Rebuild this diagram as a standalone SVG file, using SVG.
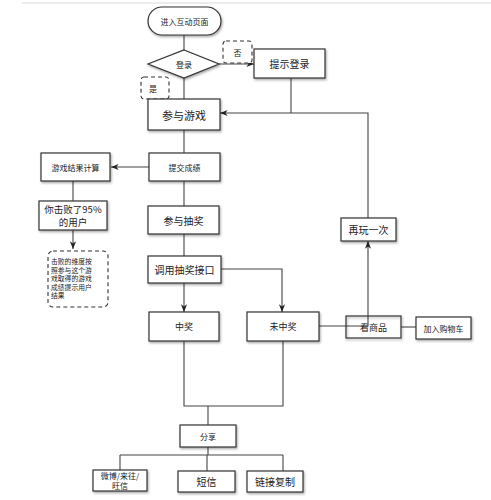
<svg xmlns="http://www.w3.org/2000/svg" width="491" height="500" viewBox="0 0 491 500">
<style>
text{font-family:"Noto Sans CJK SC","Noto Sans",sans-serif;fill:#222;text-anchor:middle;dominant-baseline:central}
.b{fill:#fff;stroke:#333;stroke-width:1.2}
.d{fill:#fff;stroke:#333;stroke-width:1.1;stroke-dasharray:4 3}
.c{fill:none;stroke:#444;stroke-width:1.1}
.l{text-anchor:start}
</style>
<defs>
<filter id="sh" x="-20%" y="-20%" width="150%" height="160%"><feDropShadow dx="1" dy="1.5" stdDeviation="1" flood-color="#000" flood-opacity="0.35"/></filter>
<marker id="a" viewBox="0 0 10 10" refX="10" refY="5" markerWidth="7" markerHeight="7" orient="auto"><path d="M0,1 L10,5 L0,9 L3,5 Z" fill="#222"/></marker>
</defs>
<rect width="491" height="500" fill="#fff"/>
<line x1="22" y1="3" x2="491" y2="3" stroke="#ececec" stroke-width="2"/>
<g id="connectors" class="c">
<path d="M184,35 V50"/>
<path d="M219,64 H254" marker-end="url(#a)"/>
<path d="M184,78 V99"/>
<path d="M291,78 V113"/>
<path d="M368,218 V113 H220" marker-end="url(#a)"/>
<path d="M184,130 V153"/>
<path d="M149,167 H111" marker-end="url(#a)"/>
<path d="M73,181 V201"/>
<path d="M73,230 V249" marker-end="url(#a)"/>
<path d="M184,181 V206"/>
<path d="M184,234 V256"/>
<path d="M184,283 V312" marker-end="url(#a)"/>
<path d="M221,269 H282 V312" marker-end="url(#a)"/>
<path d="M319,326 H368"/>
<path d="M368,326 V241" marker-end="url(#a)"/>
<path d="M401,327 H416"/>
<path d="M184,341 V406 H283 V341"/>
<path d="M208,406 V425"/>
<path d="M208,447 V455"/>
<path d="M120,455 H283"/>
<path d="M120,455 V470"/>
<path d="M207,455 V471"/>
<path d="M283,455 V471"/>
</g>
<g id="start"><rect class="b" x="148" y="7" width="73" height="28" rx="14" filter="url(#sh)"/><text x="184.5" y="21" font-size="8">进入互动页面</text></g>
<g id="login"><polygon class="b" points="184,50 219,64 184,78 148,64" filter="url(#sh)"/><text x="184" y="64" font-size="8">登录</text></g>
<g id="no"><rect class="d" x="223" y="41" width="29" height="22" rx="3"/><text x="237.5" y="52" font-size="8">否</text></g>
<g id="yes"><rect class="d" x="141" y="77" width="28" height="22" rx="3"/><text x="153" y="88" font-size="8">是</text></g>
<g id="prompt"><rect class="b" x="254" y="49" width="71" height="29" filter="url(#sh)"/><text x="289.5" y="63.5" font-size="10">提示登录</text></g>
<g id="play"><rect class="b" x="148" y="99" width="72" height="31" filter="url(#sh)"/><text x="184" y="114.5" font-size="11">参与游戏</text></g>
<g id="submit"><rect class="b" x="149" y="153" width="71" height="28" filter="url(#sh)"/><text x="184.5" y="167" font-size="8">提交成绩</text></g>
<g id="calc"><rect class="b" x="41" y="153" width="69" height="28" filter="url(#sh)"/><text x="75.5" y="167" font-size="8">游戏结果计算</text></g>
<g id="beat"><rect class="b" x="39" y="201" width="68" height="29" stroke-width="2" filter="url(#sh)"/><text x="73" y="209" font-size="9.5">你击败了95%</text><text x="73" y="221.5" font-size="9.5">的用户</text></g>
<g id="note"><rect class="d" x="48" y="251" width="60" height="56" rx="5"/>
<g font-size="6.8"><text class="l" x="51" y="261">击败的维度按</text><text class="l" x="51" y="269.5">照参与这个游</text><text class="l" x="51" y="278">戏取得的游戏</text><text class="l" x="51" y="286.5">成绩提示用户</text><text class="l" x="51" y="295">结果</text></g></g>
<g id="lottery"><rect class="b" x="148" y="206" width="71" height="28" filter="url(#sh)"/><text x="183.5" y="220" font-size="10">参与抽奖</text></g>
<g id="api"><rect class="b" x="148" y="256" width="73" height="27" filter="url(#sh)"/><text x="184.5" y="269.5" font-size="10">调用抽奖接口</text></g>
<g id="win"><rect class="b" x="149" y="312" width="70" height="29" filter="url(#sh)"/><text x="184" y="326.5" font-size="9">中奖</text></g>
<g id="lose"><rect class="b" x="247" y="312" width="72" height="29" filter="url(#sh)"/><text x="283" y="326.5" font-size="9">未中奖</text></g>
<g id="again"><rect class="b" x="341" y="218" width="55" height="23" filter="url(#sh)"/><text x="368.5" y="229.5" font-size="10">再玩一次</text></g>
<g id="goods"><rect class="b" x="346" y="316" width="55" height="22" filter="url(#sh)" fill-opacity="0"/><text x="373.5" y="327" font-size="9">看商品</text></g>
<g id="cart"><rect class="b" x="416" y="317" width="55" height="22" filter="url(#sh)"/><text x="443.5" y="328" font-size="8">加入购物车</text></g>
<g id="share"><rect class="b" x="180" y="425" width="56" height="22" filter="url(#sh)"/><text x="208" y="436" font-size="8">分享</text></g>
<g id="weibo"><rect class="b" x="93" y="470" width="54" height="21" filter="url(#sh)"/><text x="120" y="475" font-size="8">微博/来往/</text><text x="120" y="485.5" font-size="8">旺信</text></g>
<g id="sms"><rect class="b" x="178" y="471" width="57" height="21" filter="url(#sh)"/><text x="206.5" y="481.5" font-size="10">短信</text></g>
<g id="link"><rect class="b" x="247" y="471" width="56" height="21" filter="url(#sh)"/><text x="275" y="481.5" font-size="10">链接复制</text></g>
</svg>
